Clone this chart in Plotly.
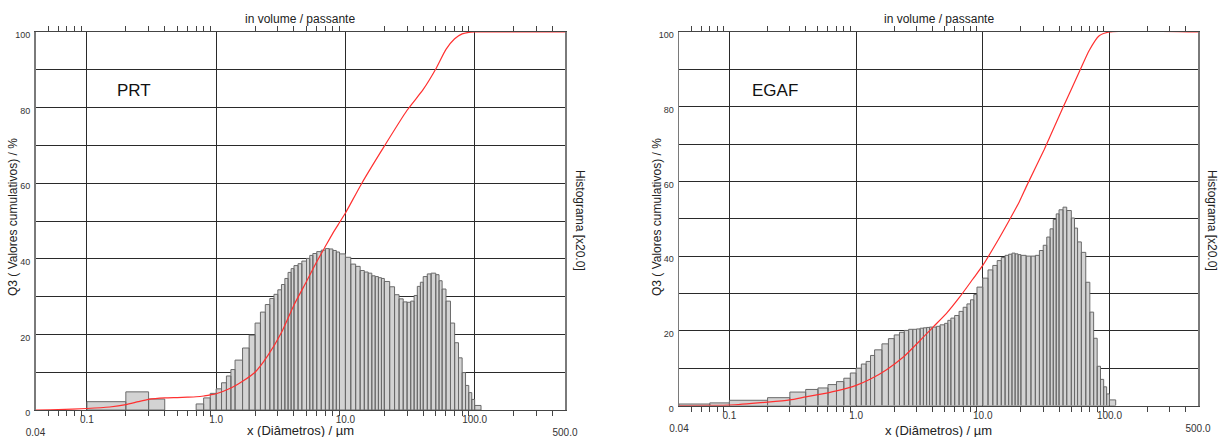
import math
import plotly.graph_objects as go

FONT = "Liberation Sans, Arial, sans-serif"

# ---- data -------------------------------------------------------------
bin_edges = [0.04, 0.07, 0.1, 0.2, 0.3, 0.4, 0.5, 0.6, 0.7, 0.8, 0.9,
             1.0, 1.1, 1.2, 1.3, 1.4, 1.6, 1.8,
             2.0, 2.2, 2.4, 2.6, 2.8, 3.0, 3.2, 3.4, 3.6, 3.8,
             4.0, 4.3, 4.6, 5.0, 5.3, 5.6, 6.0, 6.5, 7.0, 7.5, 8.0, 8.5, 9.0,
             10, 11, 12, 13, 14, 15, 16, 17, 18, 19,
             20, 22, 24, 26, 28, 30, 32, 34, 36, 38,
             40, 43, 46, 50, 53, 56, 60, 65, 70, 75, 80, 85, 90, 95, 100, 112]

prt_hist = [0, 0, 2.2, 4.8, 2.9, 0, 0, 0, 1.6, 3.2, 4.4,
            5.6, 7.2, 9.0, 10.7, 13.2, 16.4, 19.8,
            23.0, 25.9, 27.9, 29.5, 30.6,
            31.8, 33.2, 34.8, 36.4, 37.4,
            38.2, 38.7, 39.4,
            40.1, 40.9, 41.4,
            41.9, 42.3,
            42.7, 42.6,
            42.2, 41.8,
            41.3,
            40.4, 38.6, 38.0, 36.9, 36.5, 36.2, 35.5, 35.3, 35.0, 34.8,
            34.0, 32.6, 30.5, 29.4, 28.6,
            28.5, 28.8, 30.3, 32.7, 33.8,
            35.3, 36.0, 36.2,
            35.8, 34.2, 32.0,
            28.8, 23.0,
            17.8, 13.8,
            9.9, 6.5,
            4.6, 2.8,
            1.2]

egaf_hist = [0.4, 0.7, 1.4, 2.1, 3.6, 4.3, 4.7, 5.6, 6.4, 7.3, 8.7,
             10.0, 11.1, 11.8, 13.4, 14.9, 16.5, 17.9,
             18.9, 19.6, 20.1, 20.4, 20.4,
             20.5, 20.7, 20.8, 20.9, 21.0,
             21.0, 21.2, 21.6,
             22.0, 22.8, 23.4,
             24.1, 25.2,
             26.3, 27.2,
             28.3, 29.7,
             31.7,
             34.1, 36.3, 37.5, 38.8, 39.6, 40.2, 40.5, 40.8, 40.6, 40.4,
             40.2, 40.0, 40.0, 40.2, 41.5,
             42.9, 45.1, 47.3, 49.8, 51.3,
             52.4, 53.1, 52.2,
             50.2, 47.5, 43.8,
             41.0, 33.0,
             25.0, 18.0,
             10.5, 7.0,
             5.0, 3.1,
             1.5]

prt_cum_x = [0.04, 0.06, 0.1, 0.15, 0.2, 0.25, 0.3, 0.4, 0.5, 0.6, 0.7, 0.8, 0.9,
             1.0, 1.3, 1.6, 2.0, 2.5, 3.2, 4.0, 5.0, 6.0, 7.0, 8.0, 9.0, 10,
             13.4, 20, 30, 40, 50, 60, 70, 80, 90, 100, 500]
prt_cum_y = [0, 0.1, 0.4, 0.8, 1.4, 2.2, 2.8, 3.2, 3.3, 3.4, 3.5, 3.7, 4.0,
             4.3, 5.8, 7.6, 10.0, 14.3, 20.5, 27.8, 34.0, 39.2, 43.3, 46.8, 49.6, 52.1,
             60.0, 69.8, 79.3, 84.8, 90.2, 95.4, 98.2, 99.5, 99.9, 100, 100]

egaf_cum_x = [0.04, 0.1, 0.2, 0.3, 0.4, 0.6, 0.7, 1.0, 1.3, 1.74, 2.35, 3.2, 4.05,
              5.15, 6.56, 8.33, 10, 12.7, 16.2, 19.4, 22.2, 30.5, 42.6, 59, 69,
              83, 100, 500]
egaf_cum_y = [0, 0.1, 0.9, 1.5, 2.3, 3.4, 3.9, 5.4, 7.1, 9.6, 12.9, 17.4, 21.0,
              24.6, 29.0, 33.8, 37.5, 43.3, 49.6, 54.5, 58.8, 68.5, 79.5, 90.0, 95.0,
              99.0, 100, 100]

x_tick_vals = [0.04, 0.1, 1, 10, 100, 500]
x_tick_text = ["<br>0.04", "0.1", "1.0", "10.0", "100.0", "<br>500.0"]
x_minor_vals = [m * 10 ** e for e in range(-2, 3) for m in range(2, 10)
                if 0.0401 < m * 10 ** e < 499]
y_tick_vals = list(range(0, 101, 10))
y_tick_text = [str(v) if v % 20 == 0 else "" for v in y_tick_vals]

panel_labels = ["PRT", "EGAF"]
top_title = "in volume / passante"
x_title = "x (Diâmetros) / µm"
y_title = "Q3 ( Valores cumulativos) / %"
y2_title = "Histograma [x20.0]"

# ---- geometry ---------------------------------------------------------
W, H = 1222, 437
xdom = [[35.5 / W, 565 / W], [679 / W, 1198 / W]]
ydom = [[(H - 410) / H, (H - 32) / H], [(H - 405.5) / H, (H - 32) / H]]
xr = [math.log10(0.04), math.log10(500)]


def bar_path(edges, heights):
    xs, ys = [], []
    for l, r, h in zip(edges[:-1], edges[1:], heights):
        if h <= 0:
            continue
        xs += [l, l, r, r, l, None]
        ys += [0, h, h, 0, 0, None]
    return xs, ys


fig = go.Figure()
hists = [prt_hist, egaf_hist]
cums = [(prt_cum_x, prt_cum_y), (egaf_cum_x, egaf_cum_y)]
for i in range(2):
    bx, by = bar_path(bin_edges, hists[i])
    base_x = "x" if i == 0 else "x2"
    base_y = "y" if i == 0 else "y2"
    ov_x = "x3" if i == 0 else "x4"
    ov_y = "y3" if i == 0 else "y4"
    fig.add_trace(go.Scatter(x=bx, y=by, mode="lines", fill="toself",
                             fillcolor="#d3d3d3",
                             line=dict(color="#6a6a6a", width=1),
                             xaxis=base_x, yaxis=base_y, hoverinfo="skip",
                             showlegend=False))
    fig.add_trace(go.Scatter(x=cums[i][0], y=cums[i][1], mode="lines",
                             line=dict(color="#ff3030", width=1.2,
                                       shape="spline", smoothing=0.6),
                             xaxis=ov_x, yaxis=ov_y, showlegend=False))


def base_xaxis(i):
    return dict(domain=xdom[i], type="log", range=xr, visible=False,
                automargin=False, anchor="y" if i == 0 else "y2")


def base_yaxis(i):
    return dict(domain=ydom[i], range=[0, 100], visible=False,
                automargin=False, anchor="x" if i == 0 else "x2")


def over_xaxis(i):
    return dict(type="log", range=xr, overlaying="x" if i == 0 else "x2",
                anchor="y3" if i == 0 else "y4", automargin=False,
                tickmode="array", tickvals=x_tick_vals, ticktext=x_tick_text,
                showgrid=True, gridcolor="#2a2a2a", gridwidth=1,
                ticks="", showline=True, linecolor="#444", linewidth=1,
                mirror="ticks", zeroline=False,
                minor=dict(tickmode="array", tickvals=x_minor_vals,
                           ticks="outside", ticklen=5, tickcolor="#444",
                           tickwidth=1, showgrid=False),
                tickfont=dict(family=FONT, size=10, color="#333"))


def over_yaxis(i):
    return dict(range=[0, 100], overlaying="y" if i == 0 else "y2",
                anchor="x3" if i == 0 else "x4", automargin=False,
                tickmode="array", tickvals=y_tick_vals, ticktext=y_tick_text,
                showgrid=True, gridcolor="#2a2a2a", gridwidth=1,
                ticks="", showline=True, linecolor="#7a7a7a", linewidth=1.5,
                mirror=True, zeroline=False, ticklabelshift=3,
                ticklabelstandoff=2,
                tickfont=dict(family=FONT, size=9, color="#333"))


annotations = []
xcent = [(xdom[i][0] + xdom[i][1]) / 2 for i in range(2)]
ylab_x = [13 / W, 657 / W]
hist_x = [580 / W, 1212 / W]
panel_x = [134 / W, 775 / W]
for i in range(2):
    annotations.append(dict(text=top_title, x=xcent[i], y=1 - 19 / H,
                            xref="paper", yref="paper", showarrow=False,
                            xanchor="center", yanchor="middle",
                            font=dict(family=FONT, size=12, color="#222")))
    annotations.append(dict(text=x_title, x=xcent[i], y=1 - 430 / H,
                            xref="paper", yref="paper", showarrow=False,
                            xanchor="center", yanchor="middle",
                            font=dict(family=FONT, size=13, color="#222")))
    annotations.append(dict(text=y_title, x=ylab_x[i], y=1 - 217 / H,
                            xref="paper", yref="paper", showarrow=False,
                            textangle=-90, xanchor="center", yanchor="middle",
                            font=dict(family=FONT, size=12, color="#222")))
    annotations.append(dict(text=y2_title, x=hist_x[i], y=1 - 220 / H,
                            xref="paper", yref="paper", showarrow=False,
                            textangle=90, xanchor="center", yanchor="middle",
                            font=dict(family=FONT, size=12, color="#222")))
    annotations.append(dict(text=panel_labels[i], x=panel_x[i], y=1 - 90 / H,
                            xref="paper", yref="paper", showarrow=False,
                            xanchor="center", yanchor="middle",
                            font=dict(family=FONT, size=17, color="#111")))

fig.update_layout(
    width=W, height=H,
    margin=dict(l=0, r=0, t=0, b=0, pad=0, autoexpand=False),
    paper_bgcolor="white", plot_bgcolor="white",
    showlegend=False,
    hovermode=False,
    xaxis=base_xaxis(0), yaxis=base_yaxis(0),
    xaxis2=base_xaxis(1), yaxis2=base_yaxis(1),
    xaxis3=over_xaxis(0), yaxis3=over_yaxis(0),
    xaxis4=over_xaxis(1), yaxis4=over_yaxis(1),
    annotations=annotations,
)

fig.write_html(
    "out.html",
    config={"displayModeBar": False, "staticPlot": True},
    post_script="document.body.style.margin='0px';"
                "document.body.style.overflow='hidden';",
)
